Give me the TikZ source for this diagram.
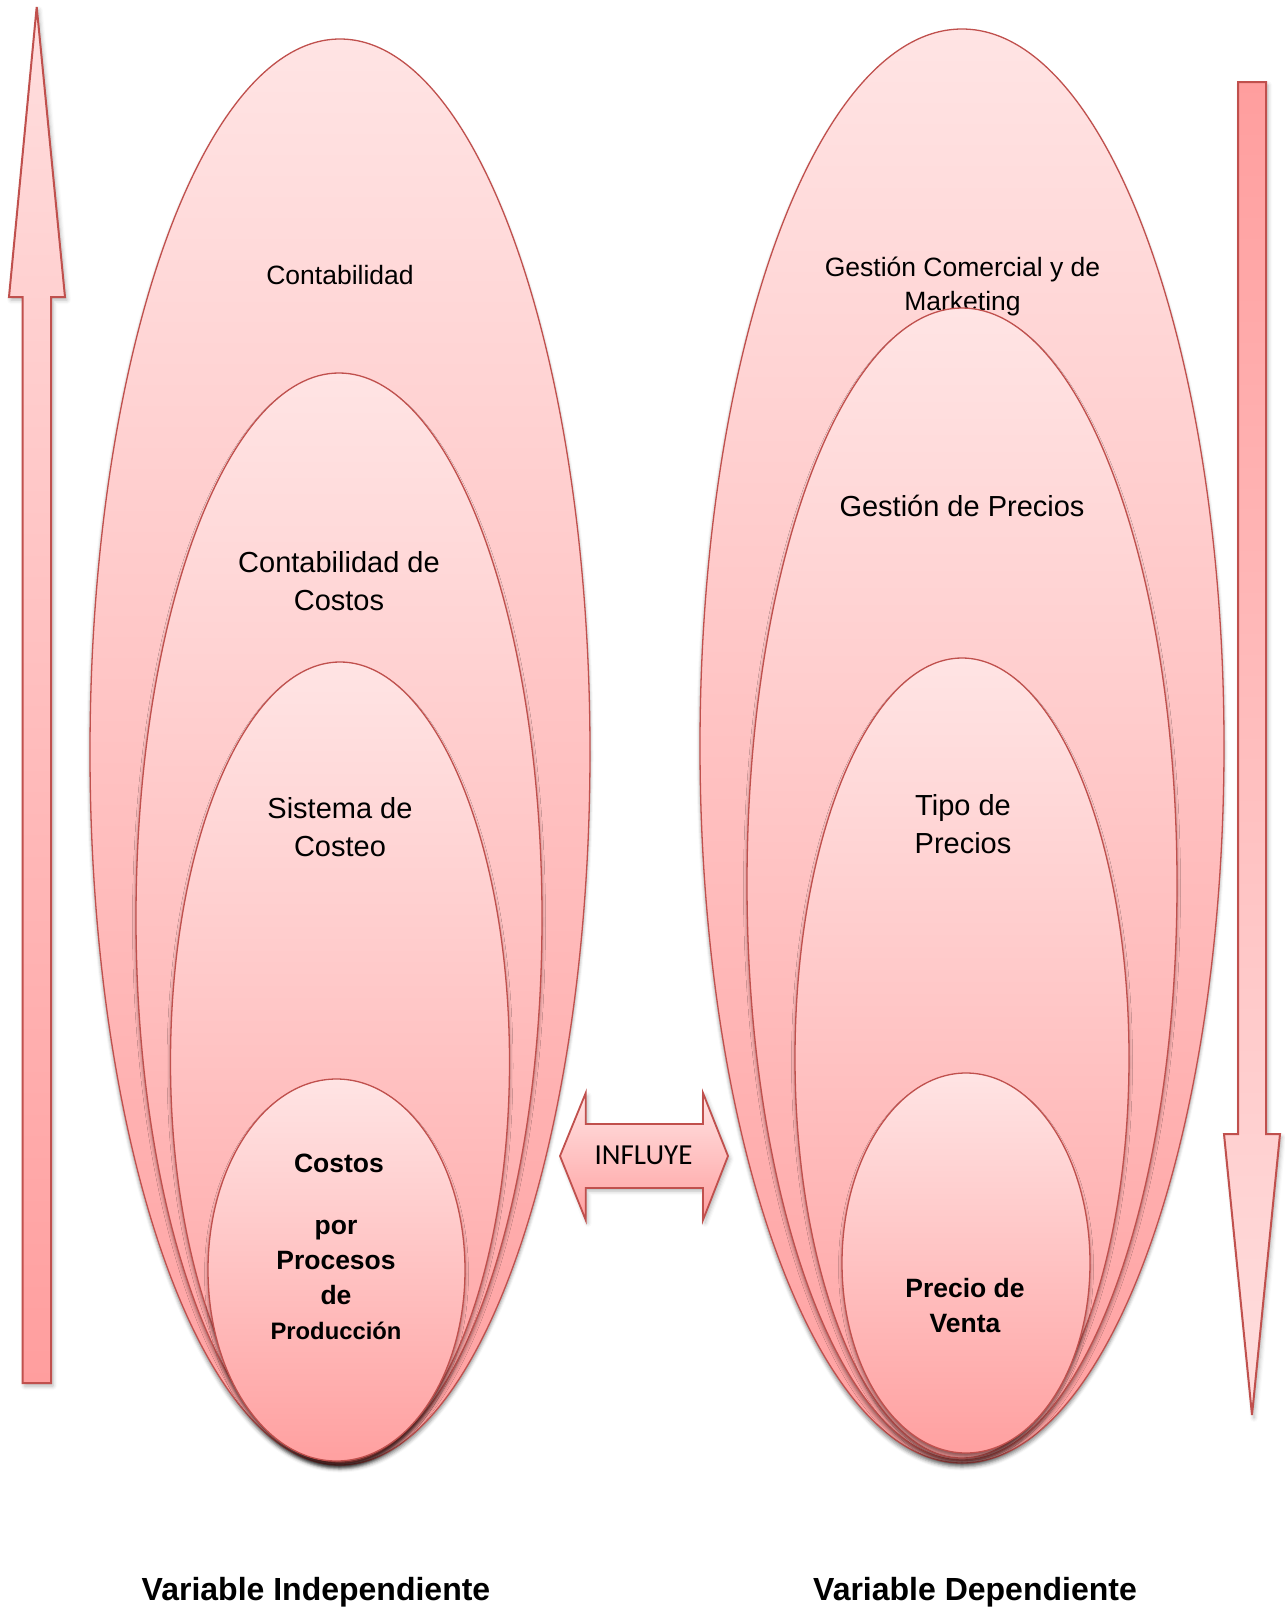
\documentclass[tikz,border=0pt]{standalone}
\usepackage{fontspec}
\setmainfont{Liberation Sans}
\newfontfamily\calibrifont{Carlito}
\usetikzlibrary{shapes.geometric,shadows.blur}
\definecolor{rimred}{RGB}{192,80,77}
\definecolor{pinktop}{RGB}{255,228,228}
\definecolor{pinkbot}{RGB}{255,160,160}
\definecolor{arrowlight}{RGB}{255,222,222}
\definecolor{arrowdark}{RGB}{255,158,158}
\tikzset{
  oval/.style={ellipse, draw=rimred, line width=1.3pt, inner sep=0pt,
    top color=pinktop, bottom color=pinkbot,
    blur shadow={shadow xshift=0pt, shadow yshift=-4pt, shadow blur radius=3.5pt, shadow opacity=45}},
  lbl/.style={align=center, inner sep=0pt, text=black},
  plainlbl/.style={lbl, font=\fontsize{29}{38}\selectfont},
  boldlbl/.style={lbl, font=\bfseries\fontsize{26.5}{35}\selectfont},
  bigarrow/.style={draw=rimred, line width=2pt, line join=miter,
    blur shadow={shadow xshift=2pt, shadow yshift=-3pt, shadow blur radius=4pt, shadow opacity=30}},
  caption/.style={lbl, font=\bfseries\fontsize{32}{38}\selectfont}
}
\begin{document}
\begin{tikzpicture}[x=1pt,y=-1pt]
\useasboundingbox (0,0) rectangle (1285,1609);

% rising arrow on the left
\path[bigarrow, top color=arrowlight, bottom color=arrowdark]
  (36.7,7) -- (65,297) -- (51,297) -- (51,1383) -- (22.7,1383)
  -- (22.7,297) -- (9,297) -- cycle;

% falling arrow on the right
\path[bigarrow, top color=arrowdark, bottom color=arrowlight]
  (1238,82) -- (1266,82) -- (1266,1134) -- (1280,1134) -- (1252,1415)
  -- (1224,1134) -- (1238,1134) -- cycle;

% nested ovals: independent variable
\node[oval, minimum width=500pt, minimum height=1426pt] (cont) at (340,752) {};
\node[plainlbl, font=\fontsize{26.5}{34}\selectfont] (tcont) at (340,275) {Contabilidad};
\node[oval, minimum width=406pt, minimum height=1090pt] (ccost) at (339,918) {};
\node[plainlbl] (tccost) at (339,581) {Contabilidad de\\Costos};
\node[oval, minimum width=339pt, minimum height=800pt] (scost) at (340,1062) {};
\node[plainlbl] (tscost) at (340,827) {Sistema de\\Costeo};
\node[oval, minimum width=257pt, minimum height=382pt] (cproc) at (336.5,1270) {};
\node[boldlbl] (tcproc) at (336,1247) {\hspace*{6pt}Costos\\[27pt]por\\Procesos\\de\\{\fontsize{23.8}{35}\selectfont Producción}};

% nested ovals: dependent variable
\node[oval, minimum width=524pt, minimum height=1434pt] (gcom) at (962,746) {};
\node[plainlbl, font=\fontsize{26.5}{34}\selectfont] (tgcom) at (962.5,286) {Gestión Comercial y de\\Marketing};
\node[oval, minimum width=430pt, minimum height=1152pt] (gpre) at (962,884) {};
\node[plainlbl] (tgpre) at (962,506) {Gestión de Precios};
\node[oval, minimum width=334pt, minimum height=800pt] (tpre) at (962,1058) {};
\node[plainlbl] (ttpre) at (963,824) {Tipo de\\Precios};
\node[oval, minimum width=248pt, minimum height=380pt] (pven) at (966,1263) {};
\node[boldlbl] (tpven) at (965,1306) {Precio de\\Venta};

% double arrow between the two groups
\path[bigarrow, line width=1.8pt, top color=pinktop, bottom color=pinkbot]
  (560,1156) -- (585.7,1093) -- (585.7,1124) -- (703,1124) -- (703,1093)
  -- (728,1156) -- (703,1220) -- (703,1188) -- (585.7,1188) -- (585.7,1220) -- cycle;
\node[lbl, font=\calibrifont\fontsize{29}{34}\selectfont] (infl) at (643.5,1155) {INFLUYE};

% captions
\node[caption] (vind) at (316,1592) {Variable Independiente};
\node[caption] (vdep) at (975,1592) {Variable Dependiente};
\end{tikzpicture}
\end{document}
